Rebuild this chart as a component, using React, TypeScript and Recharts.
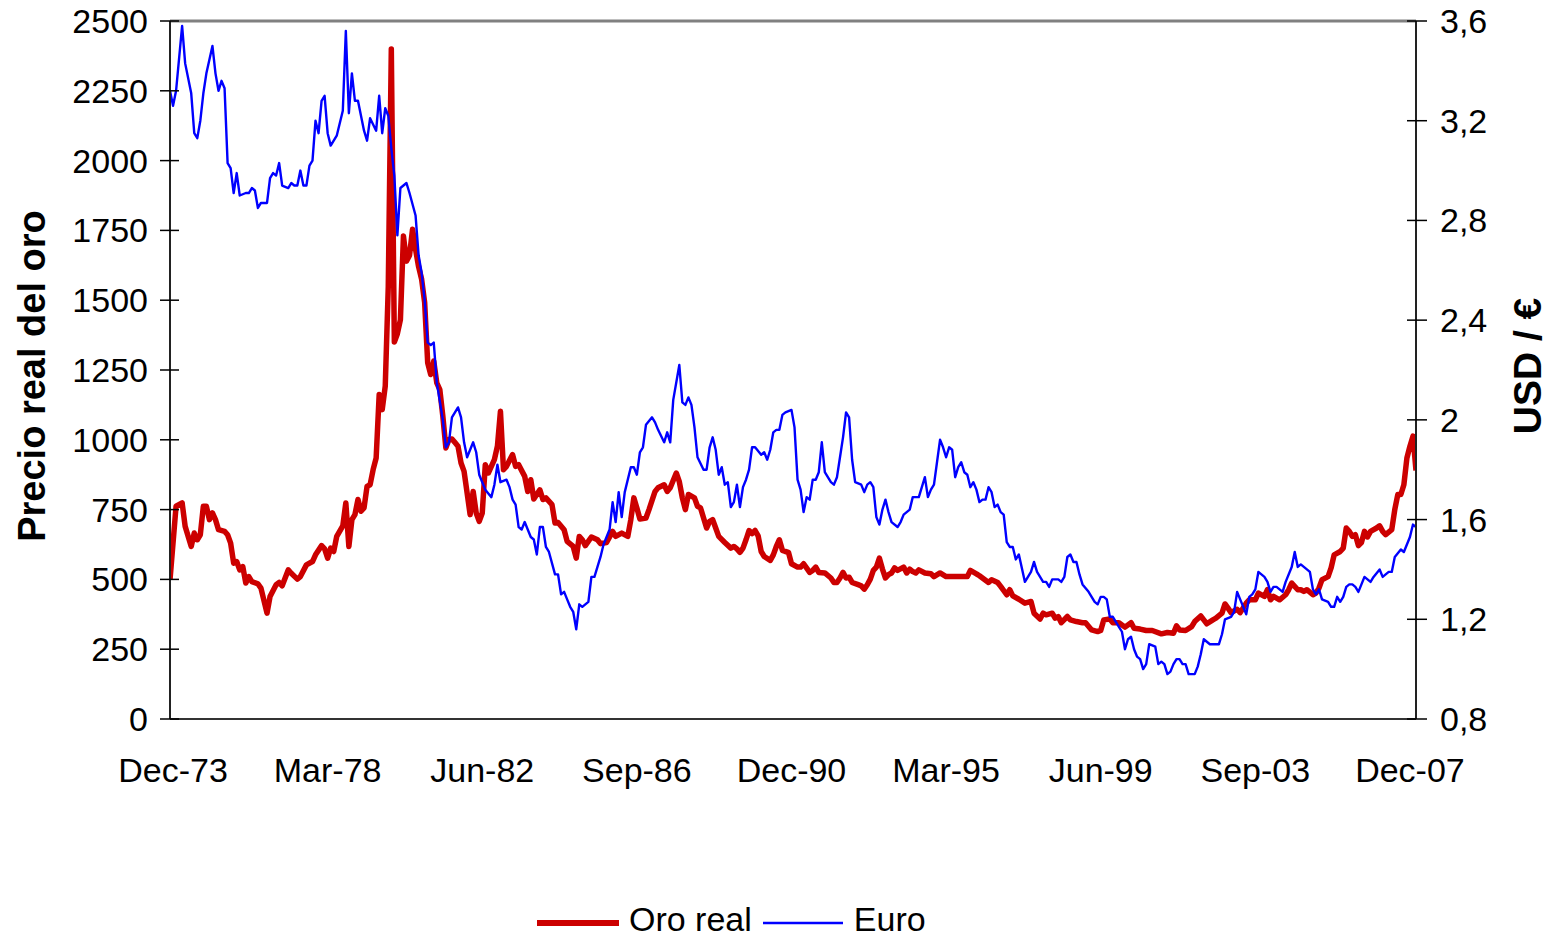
import React from 'react';
import { LineChart, Line, XAxis, YAxis, Legend, ReferenceLine } from 'recharts';

const FONT = '"Liberation Sans", Arial, Helvetica, sans-serif';

// X axis (month index; 1 = Dec-73)
const xTickMonths = [1, 52, 103, 154, 205, 256, 307, 358, 409];
const xTickLabels = ['Dec-73', 'Mar-78', 'Jun-82', 'Sep-86', 'Dec-90', 'Mar-95', 'Jun-99', 'Sep-03', 'Dec-07'];

// Left axis ticks (real gold price)
const leftTicks = [0, 250, 500, 750, 1000, 1250, 1500, 1750, 2000, 2250, 2500];
// Right axis ticks (USD / €)
const rightTicks = [0.8, 1.2, 1.6, 2, 2.4, 2.8, 3.2, 3.6];

// Oro real
const goldMonths = [0, 2, 4, 5, 7, 8, 9, 10, 11, 12, 13, 14, 15, 16, 18, 19, 20, 21, 22, 23, 24, 25, 26, 27, 29, 30, 32, 33, 35, 36, 37, 39, 40, 42, 43, 45, 47, 48, 50, 51, 52, 53, 54, 55, 57, 58, 59, 60, 61, 62, 63, 64, 65, 66, 67, 68, 69, 70, 71, 72, 73, 74, 75, 76, 77, 78, 79, 80, 81, 82, 83, 84, 85, 86, 87, 88, 89, 90, 91, 92, 93, 94, 95, 96, 97, 98, 99, 100, 101, 102, 103, 104, 105, 107, 108, 109, 110, 111, 113, 114, 115, 117, 118, 119, 120, 122, 123, 124, 126, 127, 128, 130, 131, 133, 134, 135, 136, 137, 139, 141, 142, 144, 146, 147, 149, 151, 152, 153, 154, 155, 157, 158, 160, 161, 163, 164, 165, 167, 168, 169, 170, 171, 172, 173, 174, 175, 177, 178, 179, 180, 181, 183, 185, 186, 187, 188, 189, 190, 191, 192, 193, 194, 195, 196, 198, 199, 200, 201, 202, 203, 204, 205, 207, 208, 209, 211, 212, 213, 214, 216, 218, 219, 220, 221, 222, 223, 224, 225, 227, 228, 229, 230, 231, 232, 233, 234, 235, 236, 237, 238, 239, 240, 242, 243, 244, 245, 246, 247, 249, 251, 252, 254, 256, 257, 261, 263, 264, 266, 267, 268, 270, 271, 273, 274, 276, 277, 278, 280, 282, 284, 285, 287, 288, 289, 291, 292, 293, 294, 296, 297, 299, 301, 302, 304, 306, 307, 308, 310, 311, 313, 315, 317, 318, 320, 322, 324, 327, 329, 331, 332, 333, 335, 337, 338, 340, 341, 342, 344, 345, 347, 348, 349, 350, 352, 353, 355, 356, 358, 359, 361, 362, 363, 364, 366, 368, 369, 370, 372, 373, 374, 375, 377, 378, 379, 380, 382, 383, 384, 386, 387, 388, 389, 390, 391, 392, 393, 394, 395, 396, 398, 399, 400, 401, 403, 404, 405, 406, 407, 408, 409, 410, 411];
const goldValues = [499, 762, 774, 690, 618, 666, 642, 660, 762, 762, 714, 738, 714, 678, 672, 660, 630, 558, 564, 534, 546, 487, 510, 492, 484, 469, 379, 439, 481, 489, 477, 534, 522, 501, 510, 552, 564, 588, 621, 609, 576, 612, 600, 654, 692, 774, 618, 714, 732, 786, 744, 756, 833, 839, 893, 935, 1162, 1108, 1192, 1550, 2400, 1350, 1380, 1430, 1730, 1640, 1660, 1754, 1682, 1620, 1575, 1491, 1276, 1234, 1282, 1204, 1180, 1084, 971, 1001, 1003, 990, 977, 917, 887, 810, 732, 815, 738, 708, 738, 911, 881, 929, 977, 1102, 893, 905, 947, 905, 911, 869, 815, 857, 788, 821, 786, 792, 768, 702, 704, 678, 636, 618, 576, 654, 642, 621, 652, 642, 628, 632, 672, 654, 666, 654, 714, 792, 756, 716, 720, 750, 815, 828, 839, 815, 828, 881, 850, 792, 750, 804, 798, 792, 762, 756, 684, 708, 714, 684, 654, 632, 612, 618, 609, 597, 612, 642, 675, 664, 675, 656, 600, 582, 568, 588, 618, 642, 604, 600, 597, 556, 544, 544, 556, 525, 532, 544, 525, 523, 505, 489, 489, 505, 525, 505, 508, 489, 481, 477, 465, 481, 501, 532, 544, 576, 537, 505, 517, 523, 541, 532, 544, 523, 537, 528, 523, 534, 523, 520, 510, 523, 510, 510, 510, 510, 532, 520, 513, 505, 489, 499, 489, 475, 445, 463, 441, 429, 415, 421, 379, 358, 379, 373, 379, 361, 367, 345, 367, 355, 349, 345, 345, 319, 313, 317, 355, 358, 345, 345, 329, 345, 325, 322, 317, 317, 305, 310, 307, 334, 319, 317, 331, 349, 369, 355, 341, 355, 361, 379, 412, 397, 381, 393, 381, 415, 427, 427, 451, 439, 463, 427, 439, 427, 445, 463, 487, 463, 463, 457, 463, 445, 451, 469, 499, 510, 541, 588, 600, 612, 684, 672, 654, 660, 621, 632, 672, 652, 672, 684, 692, 672, 660, 678, 750, 804, 804, 839, 935, 977, 1013, 890];

// Euro (USD / €)
const euroMonths = [0, 1, 2, 4, 5, 7, 8, 9, 10, 11, 12, 14, 15, 16, 17, 18, 19, 20, 21, 22, 23, 25, 26, 27, 28, 29, 30, 32, 33, 34, 35, 36, 37, 39, 40, 41, 42, 43, 44, 45, 46, 47, 48, 49, 50, 51, 52, 53, 55, 57, 58, 59, 60, 61, 62, 64, 65, 66, 68, 69, 70, 71, 72, 73, 74, 75, 76, 78, 79, 81, 82, 83, 84, 85, 86, 87, 88, 90, 91, 92, 93, 95, 96, 97, 98, 100, 101, 102, 103, 104, 106, 107, 108, 109, 111, 112, 113, 114, 115, 116, 117, 118, 119, 120, 121, 122, 123, 124, 125, 127, 128, 129, 130, 131, 132, 133, 134, 135, 136, 138, 139, 140, 141, 142, 143, 145, 146, 147, 148, 149, 150, 152, 153, 154, 155, 156, 157, 159, 160, 161, 163, 164, 165, 166, 168, 169, 170, 171, 172, 173, 174, 176, 177, 178, 179, 180, 181, 182, 183, 184, 185, 186, 187, 188, 189, 190, 191, 192, 193, 195, 196, 197, 198, 199, 200, 201, 202, 203, 205, 206, 207, 208, 209, 210, 211, 212, 213, 214, 215, 216, 218, 219, 220, 221, 222, 223, 224, 225, 226, 228, 229, 230, 231, 232, 233, 234, 235, 236, 237, 238, 240, 241, 242, 244, 245, 247, 248, 249, 250, 251, 252, 253, 254, 255, 256, 257, 258, 259, 260, 261, 262, 263, 264, 265, 266, 267, 268, 269, 270, 271, 272, 273, 274, 275, 276, 277, 278, 279, 280, 282, 284, 285, 286, 288, 289, 290, 291, 293, 294, 295, 296, 297, 298, 299, 300, 301, 303, 304, 305, 306, 307, 308, 309, 310, 311, 313, 314, 315, 316, 317, 318, 319, 320, 321, 322, 323, 325, 326, 327, 328, 329, 330, 331, 332, 333, 334, 335, 336, 338, 339, 340, 341, 343, 346, 347, 348, 350, 351, 352, 353, 354, 355, 356, 357, 358, 359, 361, 362, 363, 364, 365, 367, 368, 370, 371, 372, 373, 375, 376, 377, 378, 379, 380, 382, 383, 384, 385, 386, 387, 388, 389, 390, 391, 392, 393, 394, 396, 397, 399, 400, 402, 403, 404, 406, 407, 408, 409, 410, 411];
const euroValues = [3.32, 3.26, 3.32, 3.58, 3.43, 3.31, 3.15, 3.13, 3.2, 3.31, 3.39, 3.5, 3.39, 3.32, 3.36, 3.33, 3.03, 3.01, 2.91, 2.99, 2.9, 2.91, 2.91, 2.93, 2.92, 2.85, 2.87, 2.87, 2.97, 2.99, 2.98, 3.03, 2.94, 2.93, 2.95, 2.94, 2.94, 3.0, 2.94, 2.94, 3.02, 3.04, 3.2, 3.15, 3.28, 3.3, 3.15, 3.1, 3.14, 3.24, 3.56, 3.23, 3.39, 3.28, 3.28, 3.16, 3.12, 3.21, 3.16, 3.3, 3.15, 3.25, 3.22, 3.09, 2.98, 2.74, 2.93, 2.95, 2.91, 2.82, 2.66, 2.59, 2.48, 2.31, 2.3, 2.31, 2.15, 2.0, 1.89, 1.91, 2.01, 2.05, 2.01, 1.91, 1.85, 1.91, 1.87, 1.78, 1.75, 1.72, 1.69, 1.74, 1.82, 1.75, 1.76, 1.73, 1.68, 1.66, 1.57, 1.56, 1.59, 1.56, 1.53, 1.52, 1.46, 1.57, 1.57, 1.49, 1.47, 1.38, 1.38, 1.3, 1.31, 1.28, 1.25, 1.23, 1.16, 1.26, 1.25, 1.27, 1.37, 1.37, 1.41, 1.45, 1.5, 1.56, 1.67, 1.59, 1.71, 1.61, 1.71, 1.81, 1.81, 1.78, 1.87, 1.89, 1.98, 2.01, 1.99, 1.96, 1.91, 1.95, 1.91, 2.08, 2.22, 2.07, 2.06, 2.09, 2.06, 1.97, 1.85, 1.8, 1.8, 1.89, 1.93, 1.88, 1.78, 1.81, 1.74, 1.75, 1.65, 1.67, 1.74, 1.65, 1.73, 1.76, 1.8, 1.89, 1.89, 1.86, 1.87, 1.84, 1.88, 1.95, 1.96, 1.96, 2.02, 2.03, 2.04, 1.97, 1.76, 1.72, 1.63, 1.69, 1.68, 1.76, 1.76, 1.79, 1.91, 1.79, 1.75, 1.74, 1.77, 1.85, 1.93, 2.03, 2.01, 1.84, 1.75, 1.74, 1.71, 1.74, 1.75, 1.73, 1.61, 1.58, 1.64, 1.68, 1.63, 1.59, 1.57, 1.59, 1.62, 1.64, 1.69, 1.69, 1.73, 1.77, 1.69, 1.72, 1.74, 1.83, 1.92, 1.89, 1.85, 1.89, 1.88, 1.77, 1.81, 1.83, 1.79, 1.78, 1.73, 1.75, 1.72, 1.67, 1.68, 1.68, 1.73, 1.71, 1.65, 1.66, 1.63, 1.62, 1.51, 1.49, 1.49, 1.44, 1.46, 1.35, 1.39, 1.43, 1.39, 1.35, 1.35, 1.33, 1.36, 1.36, 1.35, 1.37, 1.45, 1.46, 1.43, 1.43, 1.38, 1.34, 1.31, 1.29, 1.27, 1.26, 1.29, 1.29, 1.28, 1.21, 1.21, 1.17, 1.15, 1.08, 1.12, 1.13, 1.08, 1.05, 1.04, 1.0, 1.02, 1.1, 1.09, 1.02, 1.03, 1.02, 0.98, 0.99, 1.02, 1.04, 1.04, 1.02, 1.02, 0.98, 0.98, 1.01, 1.06, 1.12, 1.1, 1.1, 1.14, 1.2, 1.21, 1.23, 1.31, 1.28, 1.25, 1.22, 1.29, 1.3, 1.32, 1.39, 1.37, 1.35, 1.31, 1.33, 1.33, 1.31, 1.35, 1.41, 1.47, 1.41, 1.42, 1.4, 1.39, 1.32, 1.3, 1.32, 1.28, 1.27, 1.25, 1.25, 1.29, 1.27, 1.29, 1.33, 1.34, 1.34, 1.33, 1.31, 1.34, 1.37, 1.35, 1.37, 1.4, 1.37, 1.39, 1.39, 1.45, 1.48, 1.47, 1.5, 1.53, 1.58, 1.57];

const goldData = goldMonths.map((m, i) => ({ m, v: goldValues[i] }));
const euroData = euroMonths.map((m, i) => ({ m, v: euroValues[i] }));

const LeftTick = (props: any) => {
  const { x, y, payload } = props;
  const ax = x + 22;
  return (
    <g>
      <line x1={ax - 10} x2={ax + 9} y1={y} y2={y} stroke="#000" strokeWidth={1.5} />
      <text x={x} y={y} dy={12} textAnchor="end" fontSize={34} fontFamily={FONT} fill="#000">
        {payload.value}
      </text>
    </g>
  );
};

const RightTick = (props: any) => {
  const { x, y, payload } = props;
  const ax = x - 24;
  return (
    <g>
      <line x1={ax - 9} x2={ax + 11} y1={y} y2={y} stroke="#000" strokeWidth={1.5} />
      <text x={x} y={y} dy={12} textAnchor="start" fontSize={34} fontFamily={FONT} fill="#000">
        {String(payload.value).replace('.', ',')}
      </text>
    </g>
  );
};

const BottomTick = (props: any) => {
  const { x, y, payload } = props;
  const idx = xTickMonths.indexOf(payload.value);
  return (
    <text x={x} y={y} dy={43} textAnchor="middle" fontSize={34} fontFamily={FONT} fill="#000">
      {idx >= 0 ? xTickLabels[idx] : ''}
    </text>
  );
};

const LegendContent = (props: any) => {
  const items = [
    { name: 'Oro real', color: '#CC0000', w: 6, len: 82, gap: 10 },
    { name: 'Euro', color: '#0000FF', w: 2.5, len: 80, gap: 11 },
  ];
  const payload = props.payload || [];
  return (
    <div style={{ display: 'flex', alignItems: 'center', fontFamily: FONT, fontSize: 34, lineHeight: '28px', height: 28, color: '#000' }}>
      {items.map((it) => {
        const p = payload.find((q: any) => q.value === it.name);
        const color = p ? p.color : it.color;
        return (
          <div key={it.name} style={{ display: 'flex', alignItems: 'center', marginRight: 11 }}>
            <svg width={it.len} height={10} style={{ display: 'block', marginTop: 8 }}>
              <line x1={0} x2={it.len} y1={5} y2={5} stroke={color} strokeWidth={it.w} />
            </svg>
            <span style={{ marginLeft: it.gap, whiteSpace: 'nowrap' }}>{it.name}</span>
          </div>
        );
      })}
    </div>
  );
};

const LeftTitle = () => (
  <text
    x={45}
    y={376}
    transform="rotate(-90, 45, 376)"
    textAnchor="middle"
    fontSize={38}
    fontWeight="bold"
    fontFamily={FONT}
    fill="#000"
  >
    Precio real del oro
  </text>
);

const RightTitle = () => (
  <text
    x={1541}
    y={366}
    transform="rotate(-90, 1541, 366)"
    textAnchor="middle"
    fontSize={39}
    fontWeight="bold"
    fontFamily={FONT}
    fill="#000"
  >
    USD / €
  </text>
);

export default function App() {
  return (
    <div style={{ position: 'absolute', left: 0, top: 0, width: 1552, height: 938, background: '#fff', overflow: 'hidden' }}>
      <LineChart width={1552} height={938} margin={{ top: 21, right: 0, bottom: 0, left: 0 }}>
        <XAxis
          dataKey="m"
          type="number"
          domain={[0, 411]}
          allowDataOverflow
          ticks={xTickMonths}
          interval={0}
          height={219}
          tickLine={false}
          tickSize={10}
          tickMargin={10}
          axisLine={{ stroke: '#333', strokeWidth: 2 }}
          tick={<BottomTick />}
        />
        <YAxis
          yAxisId="left"
          orientation="left"
          width={170}
          domain={[0, 2500]}
          ticks={leftTicks}
          interval={0}
          allowDataOverflow
          tickLine={false}
          tickSize={10}
          tickMargin={12}
          axisLine={{ stroke: '#222', strokeWidth: 2 }}
          tick={<LeftTick />}
          label={() => <LeftTitle />}
        />
        <YAxis
          yAxisId="right"
          orientation="right"
          width={136}
          domain={[0.8, 3.6]}
          ticks={rightTicks}
          interval={0}
          allowDataOverflow
          tickLine={false}
          tickSize={10}
          tickMargin={14}
          axisLine={{ stroke: '#222', strokeWidth: 2 }}
          tick={<RightTick />}
          label={() => <RightTitle />}
        />
        <ReferenceLine yAxisId="left" y={2500} stroke="#808080" strokeWidth={3} />
        <Line
          yAxisId="left"
          data={goldData}
          dataKey="v"
          name="Oro real"
          type="linear"
          stroke="#CC0000"
          strokeWidth={5.5}
          strokeLinejoin="round"
          dot={false}
          activeDot={false}
          isAnimationActive={false}
        />
        <Line
          yAxisId="right"
          data={euroData}
          dataKey="v"
          name="Euro"
          type="linear"
          stroke="#0000FF"
          strokeWidth={2.4}
          strokeLinejoin="round"
          dot={false}
          activeDot={false}
          isAnimationActive={false}
        />
        <Legend
          layout="horizontal"
          verticalAlign="middle"
          align="center"
          wrapperStyle={{ left: 537, top: 905, width: 520, height: 28 }}
          content={<LegendContent />}
        />
      </LineChart>
    </div>
  );
}
